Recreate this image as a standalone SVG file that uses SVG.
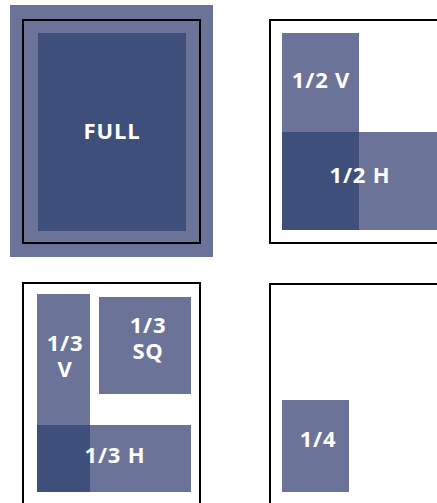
<svg xmlns="http://www.w3.org/2000/svg" width="437" height="503" viewBox="0 0 437 503">
<style>
.light{fill:#6b7398}
.dark{fill:#3e4f7b}
.frame{fill:none;stroke:#000;stroke-width:2}
.lbl{fill:#ffffff;font-family:"Open Sans","DejaVu Sans",sans-serif;font-weight:bold;font-size:22px;letter-spacing:0.8px;text-anchor:middle}
</style>
<rect width="437" height="503" fill="#ffffff"/>
<g id="full">
<rect class="light" x="10" y="5" width="203" height="252"/>
<rect class="frame" x="23" y="20" width="177" height="223"/>
<rect class="dark" x="38" y="33" width="148" height="198"/>
<text class="lbl" x="112" y="139">FULL</text>
</g>
<g id="half">
<rect class="frame" x="270" y="20" width="200" height="223"/>
<rect class="light" x="282" y="33" width="77" height="197"/>
<rect class="light" x="282" y="132" width="160" height="98"/>
<rect class="dark" x="282" y="132" width="77" height="98"/>
<text class="lbl" x="321" y="88">1/2 V</text>
<text class="lbl" x="360" y="183">1/2 H</text>
</g>
<g id="third">
<rect class="frame" x="23" y="283" width="177" height="240"/>
<rect class="light" x="37" y="294" width="53" height="198"/>
<rect class="light" x="99" y="297" width="92" height="97"/>
<rect class="light" x="37" y="425" width="154" height="67"/>
<rect class="dark" x="37" y="425" width="53" height="67"/>
<text class="lbl"><tspan x="65" y="351">1/3</tspan><tspan x="65" y="377">V</tspan></text>
<text class="lbl"><tspan x="148" y="333">1/3</tspan><tspan x="148" y="359">SQ</tspan></text>
<text class="lbl" x="115" y="463">1/3 H</text>
</g>
<g id="quarter">
<rect class="frame" x="270" y="284" width="200" height="240"/>
<rect class="light" x="282" y="400" width="67" height="92"/>
<text class="lbl" x="318" y="447">1/4</text>
</g>
<g id="connectors"/>
</svg>
